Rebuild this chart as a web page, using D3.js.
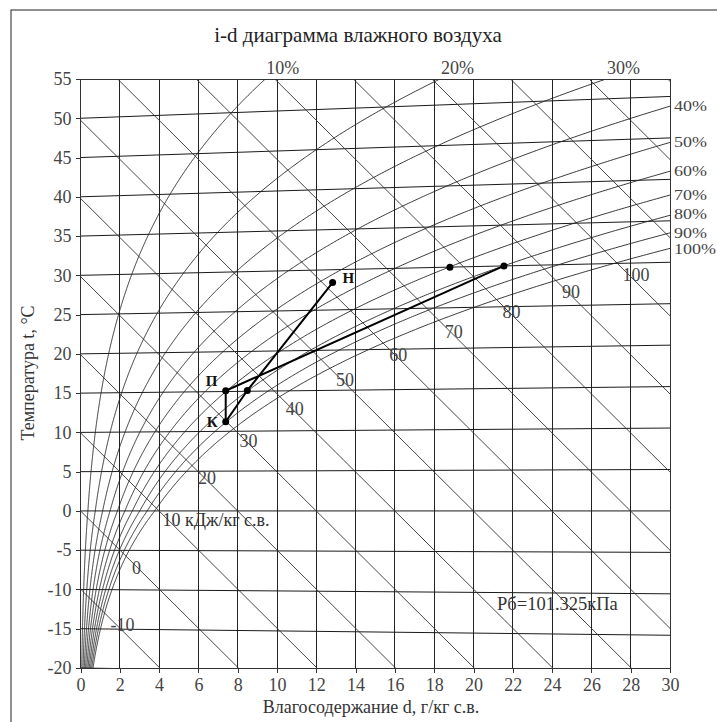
<!DOCTYPE html>
<html>
<head>
<meta charset="utf-8">
<script src="https://cdn.jsdelivr.net/npm/d3@7"></script>
<style>
  body { margin: 0; background: #fff; }
  svg { display: block; }
</style>
</head>
<body>
<svg id="chart" width="717" height="722"></svg>
<script>
// axis ticks
const dTicks = [0, 2, 4, 6, 8, 10, 12, 14, 16, 18, 20, 22, 24, 26, 28, 30];
const tTicks = [-20, -15, -10, -5, 0, 5, 10, 15, 20, 25, 30, 35, 40, 45, 50, 55];

// chart grid families
const rhLevels = [10, 20, 30, 40, 50, 60, 70, 80, 90, 100];
const rhTop = [10, 20, 30];
const enthalpyLevels = [-10, 0, 10, 20, 30, 40, 50, 60, 70, 80, 90, 100, 110, 120, 130];
const enthalpyLabels = ["-10", "0", "10 кДж/кг с.в.", "20", "30", "40", "50", "60", "70", "80", "90", "100"];

// process points (d, t)
const pointNames = ["Н", "", "", "П", "", "К"];
const pointD = [12.83, 18.8, 21.55, 7.39, 8.49, 7.39];
const pointT = [28.4, 30, 30, 15.1, 15.1, 11.2];
const processPath = [0, 4, 5, 3, 2]; // Н -> mix -> К -> П -> end

const P = 101.325;

// saturation pressure, kPa (ice below 0)
function ps(t) {
    return t < 0 ? 0.61115 * Math.exp(22.452 * t / (272.55 + t))
                 : 0.61094 * Math.exp(17.625 * t / (t + 243.04));
}
function dOf(t, phi) { const p = phi * ps(t); return 622 * p / (P - p); }
// vertical coordinate of the oblique i-d chart
function Yof(t, d) { return t + 0.00186 * t * d / 1.005; }
function Yi(i, d) { return (i - 2.501 * d) / 1.005; }
function bisect(f, a, b) {
    for (let k = 0; k < 60; k++) {
        const m = (a + b) / 2;
        if (f(a) * f(m) <= 0) b = m; else a = m;
    }
    return (a + b) / 2;
}

const svg = d3.select("#chart");
const pLeft = 80.5, pRight = 670, pTop = 79, pBottom = 668;

const x = d3.scaleLinear().domain([0, 30]).range([pLeft, pRight]);
const y = d3.scaleLinear().domain([-20, 55]).range([pBottom, pTop]);

svg.append("rect").attr("x", 11).attr("y", 10).attr("width", 760).attr("height", 760)
    .attr("fill", "#fff").attr("stroke", "#222").attr("stroke-width", 1);

svg.append("defs").append("clipPath").attr("id", "plot")
    .append("rect").attr("x", pLeft).attr("y", pTop).attr("width", pRight - pLeft).attr("height", pBottom - pTop);

const grid = svg.append("g").attr("clip-path", "url(#plot)").attr("fill", "none");
const line = d3.line().x(p => x(p[0])).y(p => y(p[1]));

// vertical lines d = const
grid.selectAll(".vline").data(dTicks).join("line")
    .attr("x1", d => x(d)).attr("x2", d => x(d))
    .attr("y1", pTop).attr("y2", pBottom)
    .attr("stroke", "#222").attr("stroke-width", 1).attr("shape-rendering", "crispEdges");

// isotherms
grid.selectAll(".iso").data(tTicks).join("path")
    .attr("d", t => line([[0, Yof(t, 0)], [30, Yof(t, 30)]]))
    .attr("stroke", "#1a1a1a").attr("stroke-width", 1);

// enthalpy lines
grid.selectAll(".ent").data(enthalpyLevels).join("path")
    .attr("d", i => line([[0, Yi(i, 0)], [30, Yi(i, 30)]]))
    .attr("stroke", "#333").attr("stroke-width", 0.9);

// relative humidity curves
const tSteps = d3.range(-20, 60.01, 0.1);
grid.selectAll(".rh").data(rhLevels).join("path")
    .attr("d", r => line(tSteps.map(t => { const d = dOf(t, r / 100); return [d, Yof(t, d)]; })
        .filter(p => p[0] < 31)))
    .attr("stroke", "#222").attr("stroke-width", 0.9);

// frame
svg.append("rect").attr("x", pLeft).attr("y", pTop).attr("width", pRight - pLeft).attr("height", pBottom - pTop)
    .attr("fill", "none").attr("stroke", "#333").attr("stroke-width", 1).attr("shape-rendering", "crispEdges");

const serif = "'Liberation Serif', 'Times New Roman', serif";

// axes
const xAxis = svg.append("g").attr("transform", `translate(0,${pBottom})`)
    .call(d3.axisBottom(x).tickValues(dTicks).tickFormat(d => String(d))
        .tickSize(5).tickSizeOuter(0).tickPadding(5));
const yAxis = svg.append("g").attr("transform", `translate(${pLeft},0)`)
    .call(d3.axisLeft(y).tickValues(tTicks).tickFormat(d => String(d))
        .tickSize(5).tickSizeOuter(0).tickPadding(4));
[xAxis, yAxis].forEach(a => {
    a.select(".domain").remove();
    a.selectAll(".tick line").attr("stroke", "#333").attr("shape-rendering", "crispEdges");
    a.selectAll(".tick text").attr("fill", "#444")
        .style("font-family", serif).style("font-size", "18px");
});

// enthalpy labels near saturation curve
const labelG = svg.append("g").style("font-family", serif).style("font-size", "18px").attr("fill", "#444");
enthalpyLabels.forEach((lab, k) => {
    const i = enthalpyLevels[k];
    const t = bisect(tt => { const d = dOf(tt, 1); return 1.005 * tt + d * (2.501 + 0.00186 * tt) - i; }, -20, 60);
    const d = dOf(t, 1);
    labelG.append("text").attr("x", x(d) + 6).attr("y", y(Yof(t, d)) + 18)
        .attr("fill", k === 2 ? "#333" : "#444").text(lab);
});

// relative humidity labels (right ones a bit narrower in height, they sit close together)
rhLevels.forEach(r => {
    if (rhTop.includes(r)) {
        const t = bisect(tt => Yof(tt, dOf(tt, r / 100)) - 55, -20, 60);
        labelG.append("text").attr("x", x(dOf(t, r / 100)) + 1).attr("y", pTop - 5).text(r + "%");
    } else {
        const t = bisect(tt => dOf(tt, r / 100) - 30, -20, 80);
        const nudge = r === 80 ? -1 : r === 100 ? 1 : 0;
        labelG.append("text")
            .attr("transform", `translate(${pRight + 4},${y(Yof(t, 30)) + 5 + nudge}) scale(1.2,1)`)
            .style("font-size", "15px").text(r + "%");
    }
});

// process
const pts = pointD.map((d, k) => [d, Yof(pointT[k], d)]);
svg.append("path").attr("d", line(processPath.map(k => pts[k])))
    .attr("fill", "none").attr("stroke", "#000").attr("stroke-width", 2).attr("stroke-linejoin", "round");
svg.selectAll(".pt").data(pts).join("circle")
    .attr("cx", p => x(p[0])).attr("cy", p => y(p[1])).attr("r", 3.5).attr("fill", "#000");
const labelOff = { "Н": [10, 0], "П": [-20, -5], "К": [-19, 5] };
pts.forEach((p, k) => {
    if (!pointNames[k]) return;
    const o = labelOff[pointNames[k]];
    svg.append("text").attr("x", x(p[0]) + o[0]).attr("y", y(p[1]) + o[1])
        .style("font-family", serif).style("font-size", "15px").style("font-weight", "bold")
        .attr("fill", "#111").text(pointNames[k]);
});

// texts
svg.append("text").attr("x", 358).attr("y", 42).attr("text-anchor", "middle")
    .style("font-family", serif).style("font-size", "21px").attr("fill", "#222")
    .text("i-d диаграмма влажного воздуха");
svg.append("text").attr("x", 371).attr("y", 713).attr("text-anchor", "middle")
    .style("font-family", serif).style("font-size", "18px").attr("fill", "#333")
    .text("Влагосодержание d, г/кг с.в.");
svg.append("text").attr("transform", "translate(34,373) rotate(-90)").attr("text-anchor", "middle")
    .style("font-family", serif).style("font-size", "18px").attr("fill", "#333")
    .text("Температура t, °С");
svg.append("text").attr("x", 497).attr("y", 610)
    .style("font-family", serif).style("font-size", "18.5px").attr("fill", "#333")
    .text("Рб=101.325кПа");
</script>
</body>
</html>
